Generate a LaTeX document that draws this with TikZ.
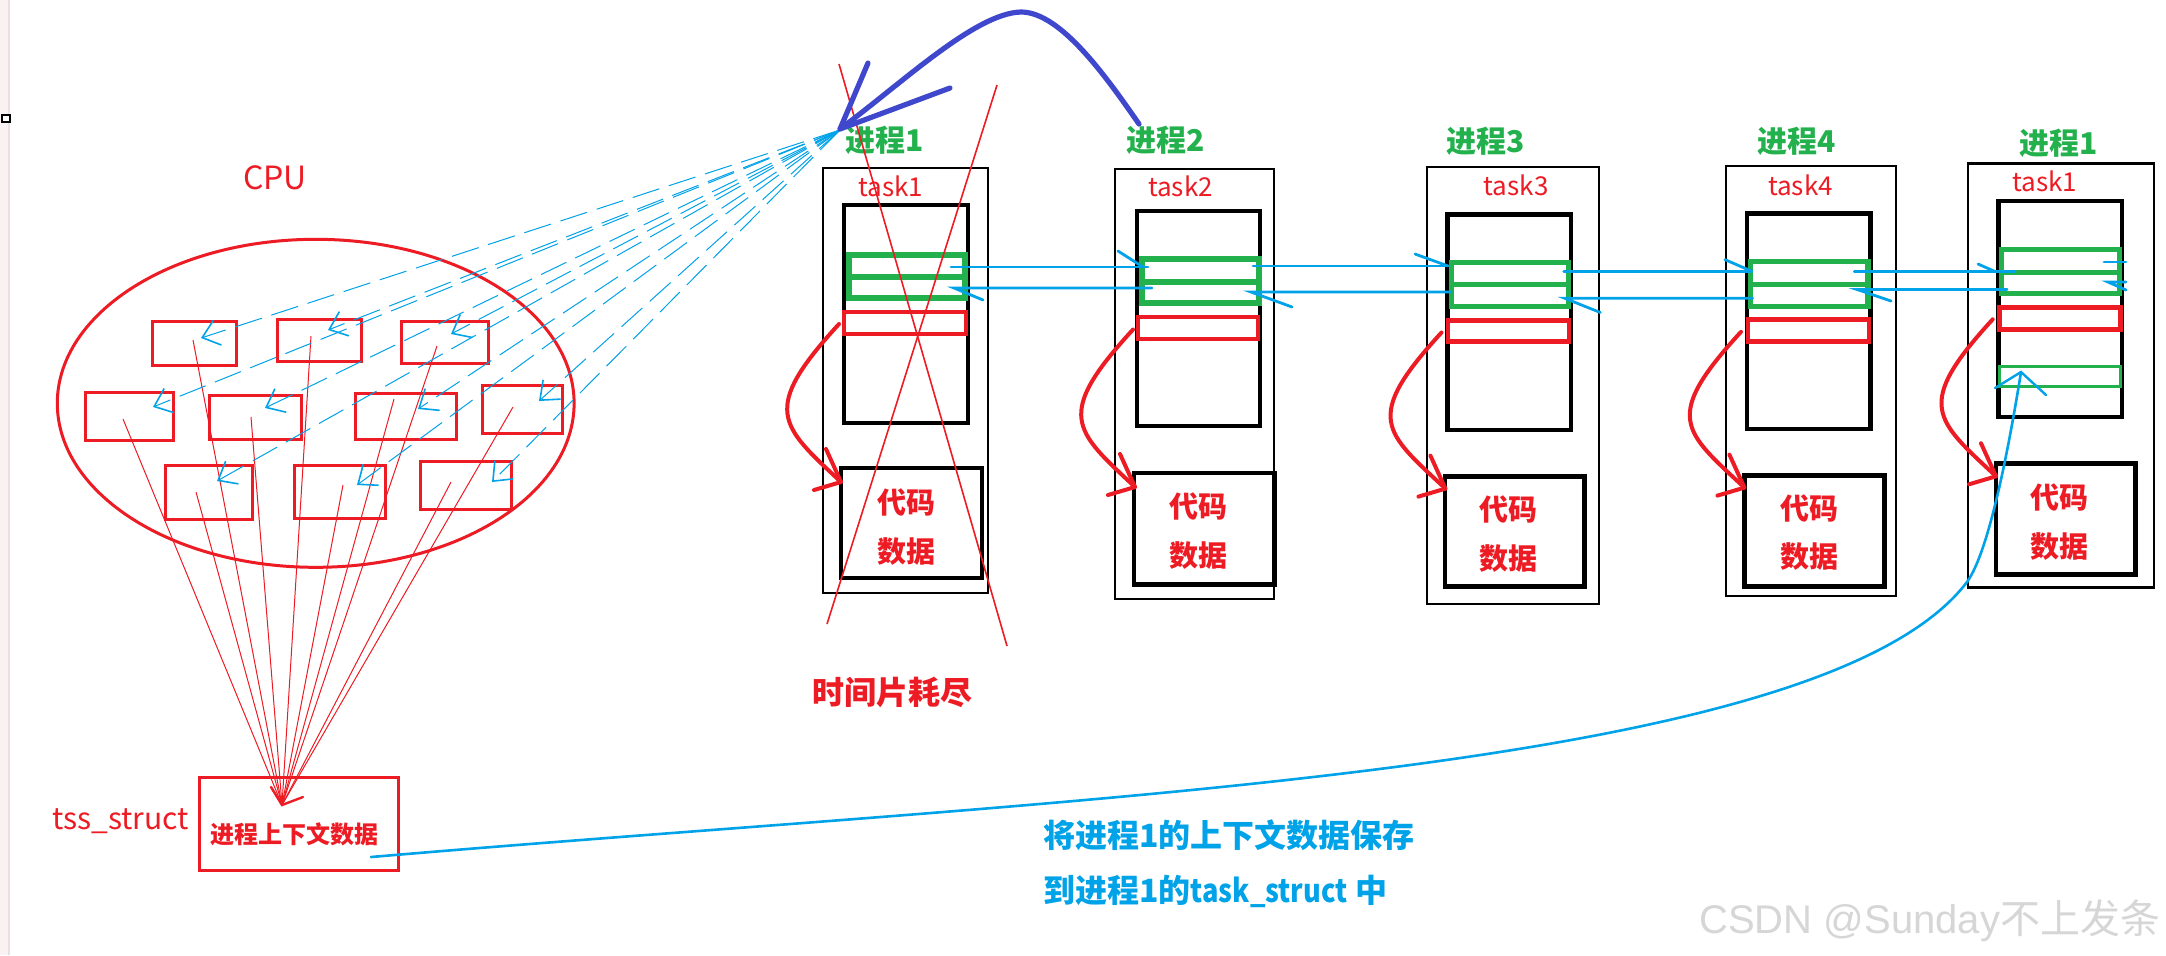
\documentclass[tikz,border=0pt]{standalone}
\usepackage{fontspec}
\setmainfont{Noto Sans CJK SC}
\newfontfamily\wmfont{Liberation Sans}
\usetikzlibrary{arrows.meta}
\definecolor{pred}{RGB}{237,28,36}
\definecolor{pgreen}{RGB}{34,177,76}
\definecolor{pcyan}{RGB}{0,162,232}
\definecolor{pindigo}{RGB}{63,72,204}
\definecolor{pstrip}{RGB}{250,241,243}
\definecolor{pstripedge}{RGB}{234,224,227}
\definecolor{wmgray}{RGB}{214,214,214}
\newcommand{\sarrow}[5]{%
  \coordinate (#1s) at (#2,#3);
  \coordinate (#1t) at (#4,#5);
  \draw[sarr] (#1s) .. controls ([shift={(-79,86)}]#1s) and ([shift={(-61,-57)}]#1t) .. (#1t);
  \draw[sarr] ([shift={(-15,-33)}]#1t) -- (#1t) -- ([shift={(-27,8)}]#1t);
}
\begin{document}
\begin{tikzpicture}[x=0.5pt,y=-0.5pt,
  outerbox/.style={draw=black,line width=1.1pt},
  innerbox/.style={draw=black,line width=2.2pt},
  greenbox/.style={draw=pgreen,line width=2.6pt},
  thingreen/.style={draw=pgreen,line width=1.3pt},
  redbox/.style={draw=pred,line width=2.2pt},
  codebox/.style={draw=black,line width=2.4pt},
  smallred/.style={draw=pred,line width=1.5pt},
  link/.style={draw=pcyan,line width=1.4pt,line cap=round},
  sarr/.style={draw=pred,line width=2pt,line cap=round,line join=round},
  xline/.style={draw=pred,line width=0.8pt},
  thinred/.style={draw=pred,line width=0.5pt},
  dashblue/.style={draw=pcyan,line width=0.5pt,dash pattern=on 14pt off 5pt,
    -{Straight Barb[length=8pt,width=13pt,line width=0.8pt]}},
  indigo/.style={draw=pindigo,line width=2.6pt,line cap=round,line join=round},
  longblue/.style={draw=pcyan,line width=1.3pt,line cap=round,line join=round},
  plabel/.style={text=pgreen,font=\fontsize{15pt}{15pt}\selectfont\bfseries,inner sep=0pt,anchor=base},
  tlabel/.style={text=pred,font=\fontsize{13pt}{13pt}\selectfont,inner sep=0pt,anchor=base},
  ctext/.style={text=pred,font=\fontsize{14.5pt}{14.5pt}\selectfont\bfseries,inner sep=0pt},
  caption/.style={text=pcyan,font=\fontsize{16pt}{16pt}\selectfont\bfseries,inner sep=0pt,anchor=west},
]
\useasboundingbox (0,0) rectangle (2166,955);
\fill[white] (0,0) rectangle (2166,955);
% left UI strip and square
\fill[pstrip] (0,0) rectangle (9,955);
\draw[pstripedge,line width=0.6pt] (9,0) -- (9,955);
\draw[black,line width=1pt,fill=white] (1.5,114.5) rectangle (9.5,122);

% ===== CPU =====
\node[text=pred,font=\fontsize{16pt}{16pt}\selectfont,inner sep=0pt,anchor=base] (cpu) at (275,189) {CPU};
\draw[pred,line width=1.5pt] (315.7,403.3) ellipse [x radius=129.2pt, y radius=82pt];
\draw[smallred] (152,321) rectangle (236,365);
\draw[smallred] (277,319) rectangle (361,361);
\draw[smallred] (401,321) rectangle (488,363);
\draw[smallred] (85,392) rectangle (173,440);
\draw[smallred] (209,395) rectangle (301,439);
\draw[smallred] (355,393) rectangle (456,439);
\draw[smallred] (482,385) rectangle (562,433);
\draw[smallred] (165,465) rectangle (252,519);
\draw[smallred] (294,465) rectangle (385,518);
\draw[smallred] (420,461) rectangle (511,509);

% red lines to tss_struct
\coordinate (R) at (282,805);
\foreach \n/\p in {1/{193,340},2/{311,336},3/{437,346},4/{123,419},5/{251,417},
                   6/{394,399},7/{513,407},8/{196,492},9/{343,485},10/{451,482}}{
  \coordinate (rs\n) at (\p);
  \draw[thinred] (rs\n) -- (R);
}
\coordinate (Ra) at (271,787);
\coordinate (Rb) at (303,797);
\draw[pred,line width=1.2pt,line cap=round] (Ra) -- (R) -- (Rb);

% tss_struct box
\draw[pred,line width=1.5pt] (199,777) rectangle (398,870);
\node[text=pred,font=\fontsize{12pt}{12pt}\selectfont\bfseries,inner sep=0pt] (ctx) at (294,834) {进程上下文数据};
\node[text=pred,font=\fontsize{15pt}{15pt}\selectfont,inner sep=0pt,anchor=base] (tss) at (120.5,829) {tss\_struct};

% ===== Process boxes =====
% P1
\draw[outerbox] (823,168) rectangle (988,593);
\draw[innerbox] (844,205) rectangle (968,423);
\draw[greenbox] (849,255) rectangle (965,298) (849,277) -- (965,277);
\draw[redbox] (844,312) rectangle (966,334);
\draw[codebox] (841,468) rectangle (982,578);
\node[plabel] (p1) at (884.5,151) {进程1};
\node[tlabel] (t1) at (890.7,196) {task1};
\node[ctext] (c1a) at (906,502.5) {代码};
\node[ctext] (c1b) at (906,551.4) {数据};
% P2
\draw[outerbox] (1115,169) rectangle (1274,599);
\draw[innerbox] (1137,211) rectangle (1260,426);
\draw[greenbox] (1142,259) rectangle (1259,303) (1142,282) -- (1259,282);
\draw[redbox] (1138,317) rectangle (1258,339);
\draw[codebox] (1134,473) rectangle (1274.5,584.5);
\node[plabel] (p2) at (1166,151) {进程2};
\node[tlabel] (t2) at (1180.5,196.5) {task2};
\node[ctext] (c2a) at (1198.8,506.6) {代码};
\node[ctext] (c2b) at (1198.8,555.6) {数据};
% P3
\draw[outerbox] (1427,167) rectangle (1599.3,603.7);
\draw[innerbox] (1447.4,214.3) rectangle (1571,429.7);
\draw[greenbox] (1451.5,262.4) rectangle (1568.5,306.2) (1451.5,284.1) -- (1568.5,284.1);
\draw[redbox] (1448,320.3) rectangle (1569,341.3);
\draw[codebox] (1445,476.3) rectangle (1584.7,586.8);
\node[plabel] (p3) at (1485.5,152) {进程3};
\node[tlabel] (t3) at (1516,195.7) {task3};
\node[ctext] (c3a) at (1508.5,509.7) {代码};
\node[ctext] (c3b) at (1508.5,558.8) {数据};
% P4
\draw[outerbox] (1726.3,165.9) rectangle (1895.8,595.6);
\draw[innerbox] (1746.9,213.3) rectangle (1870.4,429);
\draw[greenbox] (1750.3,261.3) rectangle (1868,306.2) (1750.3,284.1) -- (1868,284.1);
\draw[redbox] (1747.8,319.6) rectangle (1869,341.3);
\draw[codebox] (1744.4,475.3) rectangle (1884.6,586.1);
\node[plabel] (p4) at (1797,152) {进程4};
\node[tlabel] (t4) at (1800.5,195.5) {task4};
\node[ctext] (c4a) at (1809.4,508.6) {代码};
\node[ctext] (c4b) at (1809.4,557) {数据};
% P1 again
\draw[outerbox] (1968.3,163.5) rectangle (2154.3,587.5);
\draw[innerbox] (1998.3,201) rectangle (2121.7,416.7);
\draw[greenbox] (2001.7,249.3) rectangle (2119.3,293.3) (2001.7,272.3) -- (2119.3,272.3);
\draw[redbox] (1999.3,307.3) rectangle (2120.3,329.3);
\draw[thingreen] (1999.3,366.7) rectangle (2120.3,386.7);
\draw[codebox] (1996,463.4) rectangle (2135.2,574.5);
\node[plabel] (p5) at (2058.7,154) {进程1};
\node[tlabel] (t5) at (2044.8,191.5) {task1};
\node[ctext] (c5a) at (2059.5,497.4) {代码};
\node[ctext] (c5b) at (2059.5,546.5) {数据};

% red S arrows (registers -> code/data)
\sarrow{sa}{839}{324}{841}{482}
\sarrow{sb}{1133}{329.5}{1135}{487}
\sarrow{sc}{1441.5}{332.5}{1445.4}{488.6}
\sarrow{sd}{1741}{331.8}{1744.4}{487.6}
\sarrow{se}{1992.7}{319.3}{1996}{476.3}

% ===== blue links between task structs =====
\coordinate (a1) at (951,267);   \coordinate (a2) at (1148,267);
\coordinate (a2h) at (1143,267); \coordinate (a2k) at (1118,251);
\draw[link] (a1) -- (a2); \draw[link] (a2k) -- (a2h);
\coordinate (b1) at (1152,288);  \coordinate (b2) at (954,288);
\coordinate (b2k) at (983,300);
\draw[link] (b1) -- (b2) -- (b2k);
\coordinate (a3) at (1253,266);  \coordinate (a4) at (1448,266);
\coordinate (a4k) at (1415,254);
\draw[link] (a3) -- (a4); \draw[link] (a4k) -- (a4);
\coordinate (b3) at (1451,292);  \coordinate (b4) at (1251,292);
\coordinate (b4k) at (1292,307);
\draw[link] (b3) -- (b4) -- (b4k);
\coordinate (a5) at (1563.7,271.2); \coordinate (a6) at (1751.7,271.2);
\coordinate (a6k) at (1724.9,259.6);
\draw[link] (a5) -- (a6); \draw[link] (a6k) -- (a6);
\coordinate (b5) at (1752.7,298.2); \coordinate (b6) at (1564.6,298.2);
\coordinate (b6k) at (1600.3,312.5);
\draw[link] (b5) -- (b6) -- (b6k);
\coordinate (a7) at (1854.3,271.5); \coordinate (a8) at (2015,271.5);
\coordinate (a8h) at (1995,271.5); \coordinate (a8k) at (1978,264);
\draw[link] (a7) -- (a8); \draw[link] (a8k) -- (a8h);
\coordinate (b7) at (2007,289.4); \coordinate (b8) at (1856.8,289.4);
\coordinate (b8k) at (1891,301);
\draw[link] (b7) -- (b8) -- (b8k);
\coordinate (e1) at (2104,262); \coordinate (e2) at (2126,262);
\draw[link] (e1) -- (e2);
\coordinate (e3) at (2108,282); \coordinate (e4) at (2126,282); \coordinate (e5) at (2126,290);
\draw[link] (e4) -- (e3) -- (e5);

% ===== dashed blue lines from process 1 into CPU =====
\coordinate (F) at (840,130);
\foreach \n/\p in {1/{201,338},2/{328,330},3/{451,334},4/{153,407},5/{265,408},
                   6/{418,409},7/{539,401},8/{217,481},9/{357,485},10/{492,482}}{
  \coordinate (dt\n) at (\p);
  \draw[dashblue] (F) -- (dt\n);
}

% ===== red X over process 1 =====
\coordinate (x1) at (839,64);  \coordinate (x2) at (1007,646);
\coordinate (x3) at (997,85);  \coordinate (x4) at (827,624);
\draw[xline] (x1) -- (x2);
\draw[xline] (x3) -- (x4);

% ===== indigo arrow from process 2 back to process 1 =====
\coordinate (i0) at (1139,124);
\coordinate (i1) at (1021,12);
\coordinate (i2) at (840,129);
\coordinate (i2a) at (868,63);
\coordinate (i2b) at (950,88);
\draw[indigo] (i0) .. controls (1105,75) and (1060,12) .. (i1)
  .. controls (975,13) and (900,85) .. (i2);
\draw[indigo] (i2a) -- (i2) -- (i2b);

% ===== long cyan curve: save context into task_struct =====
\coordinate (L0) at (371,857);
\coordinate (L1) at (1967,582);
\coordinate (L2) at (2021,372);
\coordinate (L2a) at (1995,388);
\coordinate (L2b) at (2046,395);
\draw[longblue] (L0) .. controls (1071,797) and (1820,775) .. (L1)
  .. controls (1990,550) and (2010,440) .. (L2);
\draw[link,line width=1.2pt] (L2a) -- (L2) -- (L2b);

% ===== captions =====
\node[text=pred,font=\fontsize{16pt}{16pt}\selectfont\bfseries,inner sep=0pt] (slice) at (892,692) {时间片耗尽};
\node[caption] (cap1) at (1043,835) {将进程1的上下文数据保存};
\node[caption] (cap2) at (1043,891) {到进程1的\scalebox{0.85}[1]{task\_struct} 中};

% watermark
\node[text=wmgray,font=\fontsize{20pt}{20pt}\selectfont,inner sep=0pt,anchor=base west] (wm) at (1699,933) {{\wmfont CSDN @Sunday}不上发条};
\end{tikzpicture}
\end{document}
